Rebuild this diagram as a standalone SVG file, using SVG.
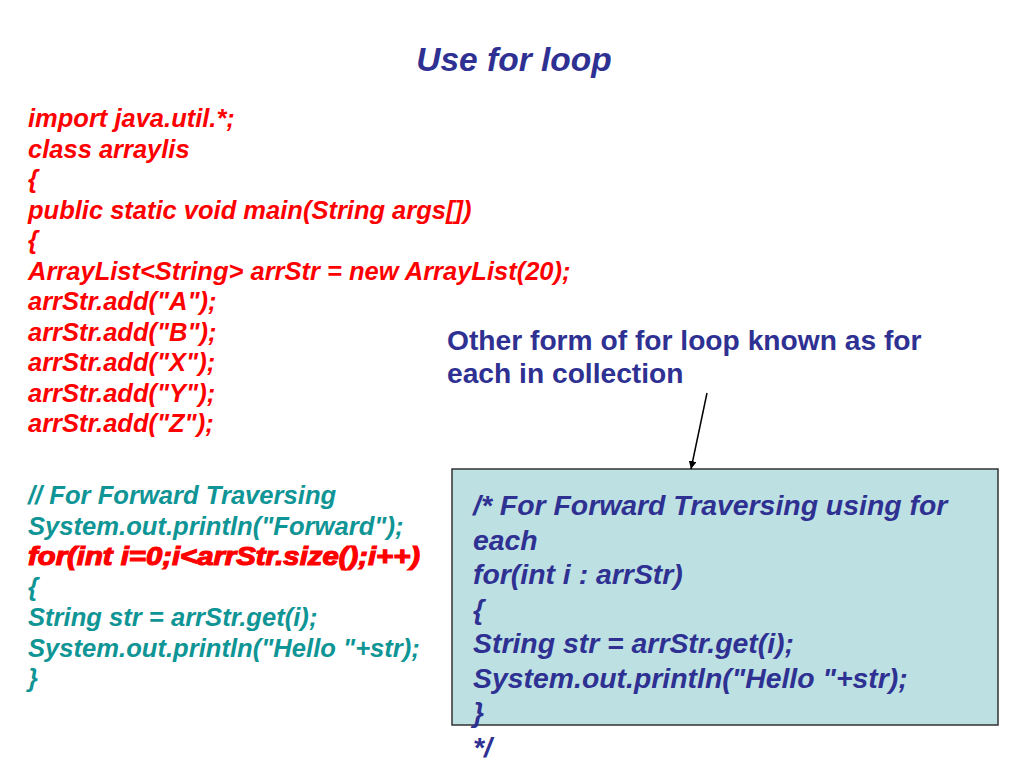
<svg xmlns="http://www.w3.org/2000/svg" width="1024" height="768" viewBox="0 0 1024 768">
<defs>
<style>
text{font-family:"Liberation Sans",Arial,sans-serif;font-weight:bold}
.it{font-style:italic}
.red{fill:#ff0000;font-size:25.5px;font-style:italic}
.teal{fill:#0f9595;font-size:25.6px;font-style:italic}
.blue{fill:#2e3192}
.box{fill:#2e3192;font-size:28.4px;font-style:italic}
</style>
<marker id="ah" viewBox="0 0 10 10" refX="10" refY="5" markerWidth="8" markerHeight="8" orient="auto" markerUnits="userSpaceOnUse">
<path d="M0,0 L10,5 L0,10 z" fill="#000"/>
</marker>
</defs>
<rect width="1024" height="768" fill="#ffffff"/>
<g id="title">
<text class="blue it" x="514" y="71" font-size="33.5" text-anchor="middle">Use for loop</text>
</g>
<g id="code-main">
<text class="red" x="28" y="127">import java.util.*;</text>
<text class="red" x="28" y="157.5">class arraylis</text>
<text class="red" x="28" y="188">{</text>
<text class="red" x="28" y="218.5">public static void main(String args[])</text>
<text class="red" x="28" y="249">{</text>
<text class="red" x="28" y="279.5">ArrayList&lt;String&gt; arrStr = new ArrayList(20);</text>
<text class="red" x="28" y="310">arrStr.add("A");</text>
<text class="red" x="28" y="340.5">arrStr.add("B");</text>
<text class="red" x="28" y="371">arrStr.add("X");</text>
<text class="red" x="28" y="401.5">arrStr.add("Y");</text>
<text class="red" x="28" y="432">arrStr.add("Z");</text>
</g>
<g id="code-forward">
<text class="teal" x="28" y="504">// For Forward Traversing</text>
<text class="teal" x="28" y="534.5">System.out.println("Forward");</text>
<text class="red" x="28" y="565" stroke="#ff0000" stroke-width="1.2" textLength="392" lengthAdjust="spacingAndGlyphs">for(int i=0;i&lt;arrStr.size();i++)</text>
<text class="teal" x="28" y="595.5">{</text>
<text class="teal" x="28" y="626">String str = arrStr.get(i);</text>
<text class="teal" x="28" y="656.5">System.out.println("Hello "+str);</text>
<text class="teal" x="28" y="687">}</text>
</g>
<g id="note">
<text class="blue" x="447" y="350" font-size="28.2">Other form of for loop known as for</text>
<text class="blue" x="447" y="383" font-size="28.2">each in collection</text>
</g>
<g id="foreach-box">
<rect x="452" y="469" width="546" height="256" fill="#bde0e3" stroke="#333333" stroke-width="1.5"/>
<text class="box" x="473" y="515">/* For Forward Traversing using for</text>
<text class="box" x="473" y="549.5">each</text>
<text class="box" x="473" y="584">for(int i : arrStr)</text>
<text class="box" x="473" y="618.5">{</text>
<text class="box" x="473" y="653">String str = arrStr.get(i);</text>
<text class="box" x="473" y="687.5">System.out.println("Hello "+str);</text>
<text class="box" x="473" y="722">}</text>
<text class="box" x="473" y="756.5">*/</text>
</g>
<g id="connectors">
<line x1="707" y1="393" x2="691" y2="469" stroke="#000" stroke-width="1.5" marker-end="url(#ah)"/>
</g>
</svg>
